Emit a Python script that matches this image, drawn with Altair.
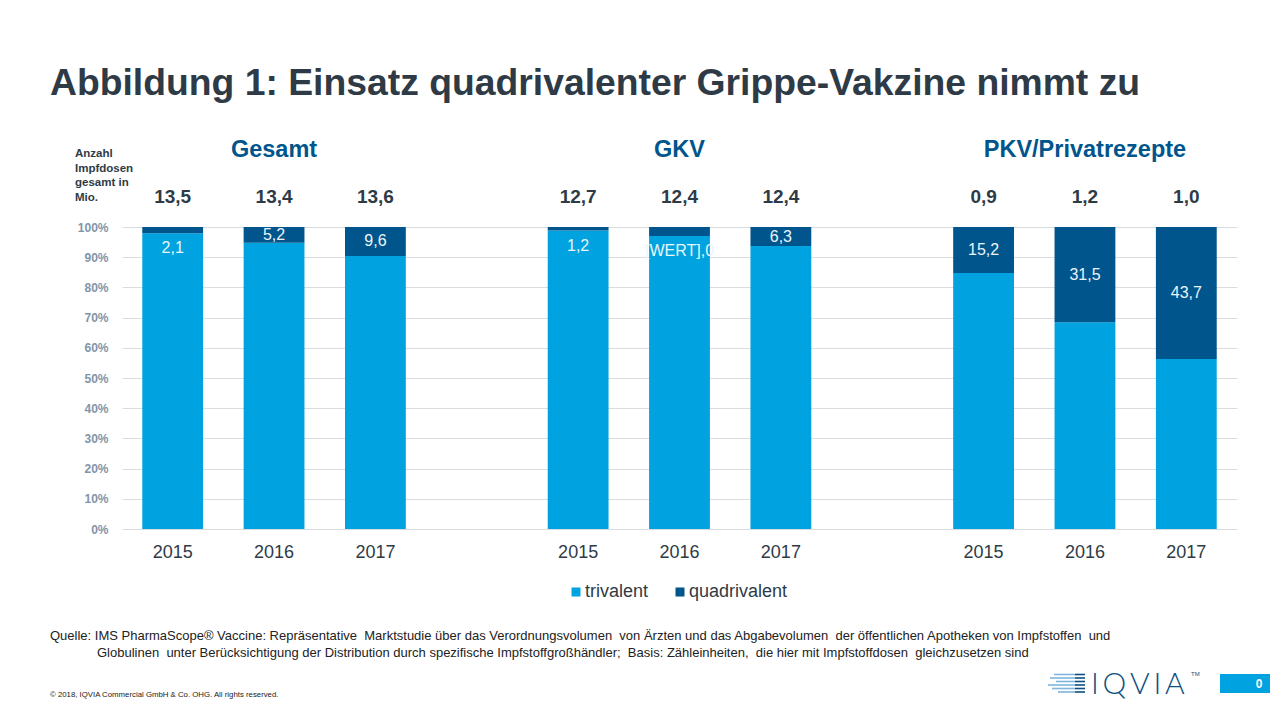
import altair as alt
import pandas as pd

# ---- data ----
groups = ["Gesamt", "GKV", "PKV/Privatrezepte"]
years = ["2015", "2016", "2017"]
totals = [13.5, 13.4, 13.6, 12.7, 12.4, 12.4, 0.9, 1.2, 1.0]
quad = [2.1, 5.2, 9.6, 1.2, 3.0, 6.3, 15.2, 31.5, 43.7]
quad_labels = ["2,1", "5,2", "9,6", "1,2", "[WERT],0", "6,3", "15,2", "31,5", "43,7"]
series = ["trivalent", "quadrivalent"]
y_ticks = [0, 10, 20, 30, 40, 50, 60, 70, 80, 90, 100]

title_text = "Abbildung 1: Einsatz quadrivalenter Grippe-Vakzine nimmt zu"
axis_note = ["Anzahl", "Impfdosen", "gesamt in", "Mio."]
source_lines = [
    "Quelle: IMS PharmaScope\u00ae Vaccine: Repr\u00e4sentative\u00a0 Marktstudie \u00fcber das Verordnungsvolumen\u00a0 von \u00c4rzten und das Abgabevolumen\u00a0 der \u00f6ffentlichen Apotheken von Impfstoffen\u00a0 und",
    "Globulinen\u00a0 unter Ber\u00fccksichtigung der Distribution durch spezifische Impfstoffgro\u00dfh\u00e4ndler;\u00a0 Basis: Z\u00e4hleinheiten,\u00a0 die hier mit Impfstoffdosen\u00a0 gleichzusetzen sind",
]
copyright_text = "\u00a9 2018, IQVIA Commercial GmbH & Co. OHG. All rights reserved."

# ---- derived tables ----
domain = []
for gi, g in enumerate(groups):
    for y in years:
        domain.append(f"{g}|{y}")
    if gi < len(groups) - 1:
        domain.append(f"gap{gi}")

slots = [f"{g}|{y}" for g in groups for y in years]
rows = []
for s, q in zip(slots, quad):
    rows.append({"slot": s, "series": "trivalent", "value": 100 - q, "ord": 0})
    rows.append({"slot": s, "series": "quadrivalent", "value": q, "ord": 1})
bars_df = pd.DataFrame(rows)

lab_df = pd.DataFrame({"slot": slots, "q": quad, "label": quad_labels})
tot_df = pd.DataFrame({"slot": slots,
                       "label": [f"{t:.1f}".replace(".", ",") for t in totals]})
grp_df = pd.DataFrame({"slot": [f"{g}|{years[1]}" for g in groups], "label": groups})

FONT = "Liberation Sans"
LIGHT = "#00A3E0"
DARK = "#00558C"
TXT = "#2E3B46"

W, H = 1115, 302

x_scale = alt.Scale(domain=domain, paddingInner=0.4, paddingOuter=0.2)
x_axis = alt.Axis(title=None, labelExpr="indexof(datum.value,'|')>=0 ? split(datum.value,'|')[1] : ''",
                  labelAngle=0, labelFontSize=18, labelColor=TXT, labelFont=FONT,
                  labelPadding=14, ticks=False, domain=False, grid=False)
y_scale = alt.Scale(domain=[0, 100], nice=False)
y_axis = alt.Axis(title=None, values=y_ticks, labelExpr="datum.value + '%'",
                  labelFontSize=12, labelFontWeight="bold", labelColor="#7F95A8",
                  labelFont=FONT, labelPadding=14, ticks=False, domain=False,
                  labelOverlap=False, grid=True, gridColor="#D9DDE0", gridWidth=1)

bars = alt.Chart(bars_df).mark_bar().encode(
    x=alt.X("slot:N", scale=x_scale, axis=x_axis),
    y=alt.Y("value:Q", stack="zero", scale=y_scale, axis=y_axis),
    color=alt.Color("series:N", scale=alt.Scale(domain=series, range=[LIGHT, DARK]),
                    legend=alt.Legend(title=None, orient="none", legendX=445, legendY=356,
                                      direction="horizontal", symbolType="square",
                                      symbolSize=81, symbolStrokeWidth=0, labelFontSize=18,
                                      labelColor=TXT, labelFont=FONT, labelOffset=0,
                                      columnPadding=22, padding=0)),
    order=alt.Order("ord:Q"),
)

labels = alt.Chart(lab_df).transform_calculate(
    ypos="datum.q < 4 ? 100 - datum.q - 5 : 100 - datum.q / 2"
).mark_text(font=FONT, fontSize=16, color="#EAF5FB", baseline="middle").encode(
    x=alt.X("slot:N", scale=x_scale, axis=x_axis),
    y=alt.Y("ypos:Q", scale=y_scale, axis=y_axis),
    text="label:N",
)

tot = alt.Chart(tot_df).mark_text(font=FONT, fontSize=19, fontWeight="bold", color=TXT,
                                  baseline="middle").encode(
    x=alt.X("slot:N", scale=x_scale, axis=x_axis),
    y=alt.value(-30),
    text="label:N",
)

grp = alt.Chart(grp_df).mark_text(font=FONT, fontSize=23.5, fontWeight="bold", color=DARK,
                                  baseline="middle").encode(
    x=alt.X("slot:N", scale=x_scale, axis=x_axis),
    y=alt.value(-77),
    text="label:N",
)

one = pd.DataFrame({"a": [0]})

title = alt.Chart(one).mark_text(font=FONT, fontSize=37.3, fontWeight="bold", color=TXT,
                                 align="left", baseline="alphabetic").encode(
    x=alt.value(-72), y=alt.value(-132), text=alt.value(title_text))

note = alt.Chart(one).mark_text(font=FONT, fontSize=11.5, fontWeight="bold", color=TXT,
                                align="left", baseline="top", lineHeight=14.5).encode(
    x=alt.value(-47), y=alt.value(-79), text=alt.value(axis_note))

src1 = alt.Chart(one).mark_text(font=FONT, fontSize=13, color="#222222",
                                align="left", baseline="alphabetic").encode(
    x=alt.value(-72), y=alt.value(413), text=alt.value(source_lines[0]))
src2 = alt.Chart(one).mark_text(font=FONT, fontSize=13, color="#222222",
                                align="left", baseline="alphabetic").encode(
    x=alt.value(-25), y=alt.value(430), text=alt.value(source_lines[1]))
copy = alt.Chart(one).mark_text(font=FONT, fontSize=7.8, color="#222222",
                                align="left", baseline="alphabetic").encode(
    x=alt.value(-72), y=alt.value(470), text=alt.value(copyright_text))

# logo stripes (decoration)
stripe_layers = []
for i, (x0, yy) in enumerate([(932, 447.5), (928, 451), (934, 454.5), (926, 458), (930, 461.5), (936, 465)]):
    stripe_layers.append(alt.Chart(one).mark_rule(color="#7FB6DE", strokeWidth=1.6).encode(
        x=alt.value(x0), x2=alt.value(953), y=alt.value(yy)))
    stripe_layers.append(alt.Chart(one).mark_rule(color="#0D4F80", strokeWidth=1.6).encode(
        x=alt.value(953), x2=alt.value(963), y=alt.value(yy)))

logo = alt.Chart(one).mark_text(font="Lato", fontSize=30, fontWeight=300, color="#0D4F80",
                                align="left", baseline="alphabetic").encode(
    x=alt.value(969), y=alt.value(467), text=alt.value("I\u2009Q\u2009V\u2009I\u2009A"))
tm = alt.Chart(one).mark_text(font=FONT, fontSize=6, color="#0D4F80", align="left",
                              baseline="alphabetic").encode(
    x=alt.value(1069), y=alt.value(449), text=alt.value("TM"))
box = alt.Chart(one).mark_rect(color=LIGHT).encode(
    x=alt.value(1098), x2=alt.value(1150), y=alt.value(447), y2=alt.value(466))
boxtxt = alt.Chart(one).mark_text(font=FONT, fontSize=12, fontWeight="bold", color="white",
                                  baseline="middle").encode(
    x=alt.value(1137), y=alt.value(457), text=alt.value("0"))

chart = alt.layer(bars, labels, tot, grp, title, note, src1, src2, copy,
                  *stripe_layers, logo, tm, box, boxtxt).properties(
    width=W, height=H,
    autosize=alt.AutoSizeParams(type="none"),
    padding={"left": 114, "top": 219, "right": 33, "bottom": 171},
).configure(font=FONT, view=alt.ViewConfig(strokeWidth=0, stroke="transparent"))

chart.save("out.html", embed_options={"renderer": "svg", "actions": False})
